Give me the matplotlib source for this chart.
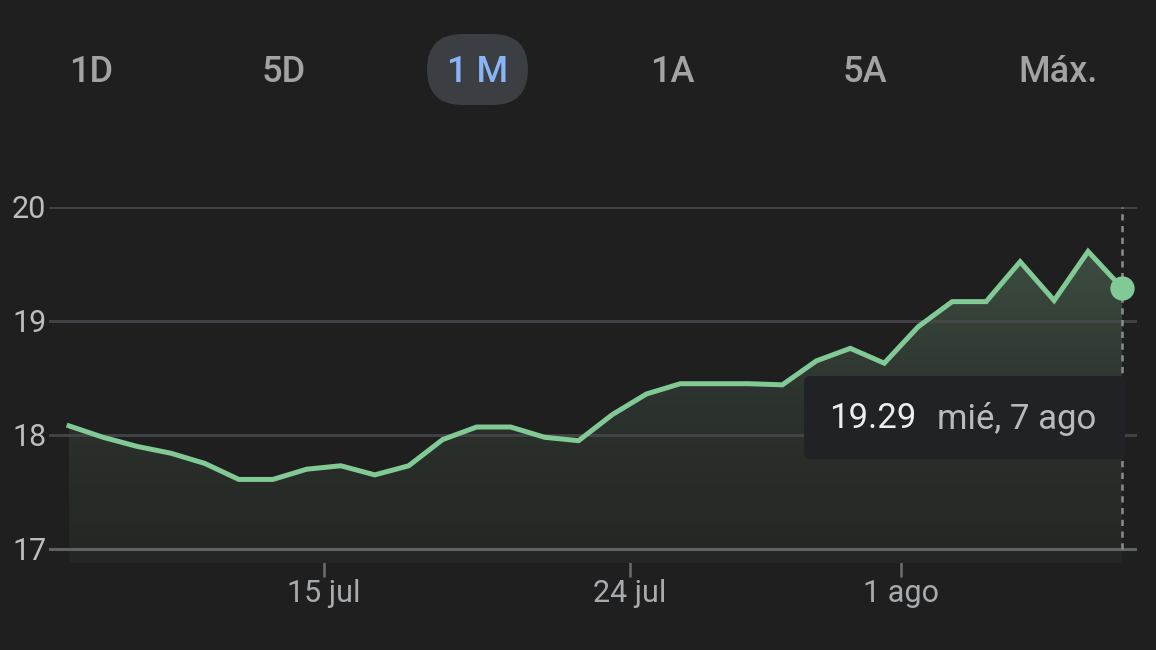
# 1 month price chart, dark theme (recreated)
import matplotlib
matplotlib.use("Agg")
import matplotlib.pyplot as plt
import matplotlib.dates as mdates
from matplotlib.patches import FancyBboxPatch, Polygon
from matplotlib.colors import LinearSegmentedColormap
import numpy as np
import pandas as pd

# data
dates = pd.date_range("2024-07-07", "2024-08-07", freq="D")
prices = [18.08, 17.98, 17.90, 17.84, 17.75, 17.61, 17.61, 17.70, 17.73, 17.65,
          17.73, 17.96, 18.07, 18.07, 17.98, 17.95, 18.18, 18.36, 18.45, 18.45,
          18.45, 18.44, 18.65, 18.76, 18.63, 18.95, 19.17, 19.17, 19.52, 19.18,
          19.61, 19.29]
yticks = [17, 18, 19, 20]
xtick_dates = ["2024-07-15", "2024-07-24", "2024-08-01"]
xtick_labels = ["15 jul", "24 jul", "1 ago"]
tabs = ["1D", "5D", "1 M", "1A", "5A", "Máx."]
active_tab = "1 M"
tooltip_value = "19.29"
tooltip_date = "mié, 7 ago"

BG = "#1f1f1f"
GREEN = "#81c995"
GRID = "#45484b"
TEXT = "#a8abae"

W, H = 1156, 650
fig = plt.figure(figsize=(W / 100, H / 100), dpi=100, facecolor=BG)

# overlay axes in pixel units (y down) for the tabs and tooltip
ov = fig.add_axes([0, 0, 1, 1], zorder=10)
ov.set_xlim(0, W)
ov.set_ylim(H, 0)
ov.axis("off")
ov.patch.set_alpha(0)

def fx(px):
    return px / W

def fy(py):
    return 1 - py / H

# chart axes box in pixels: left 49, right 1137, top 207 (y=20), bottom 563
ax = fig.add_axes([fx(49), fy(563), fx(1137) - fx(49), fy(207) - fy(563)])
ax.set_facecolor(BG)
for s in ax.spines.values():
    s.set_visible(False)

x = mdates.date2num(dates)
ax.set_xlim(x[0] - 0.59, x[-1] + 0.44)
ax.set_ylim(16.877, 20.0)

# grid lines (drawn over the fill, under the price line)
for v in yticks:
    if v == yticks[0]:
        ax.axhline(v, color="#5f6265", lw=2.2, zorder=3)
    else:
        ax.axhline(v, color=GRID, lw=2.2, alpha=0.85, zorder=3)

# gradient fill under the line
fill_poly = Polygon(list(zip(x, prices)) + [(x[-1], 16.877), (x[0], 16.877)],
                    closed=True, facecolor="none", edgecolor="none")
ax.add_patch(fill_poly)
cmap = LinearSegmentedColormap.from_list("g", ["#242624", "#2c322d", "#3e4e41"])
grad = np.linspace(0, 1, 256).reshape(-1, 1)
im = ax.imshow(grad, cmap=cmap, origin="lower", aspect="auto",
               extent=[x[0], x[-1], 16.877, 19.65], zorder=2)
im.set_clip_path(fill_poly)

# price line
ax.plot(x, prices, color=GREEN, lw=3.6, solid_joinstyle="miter", zorder=4,
        clip_on=False)

# dashed cursor line + end marker
ax.vlines(x[-1], yticks[0], yticks[-1], colors="#8a8d90", lw=1.8,
          linestyles=(0, (2.5, 2.2)), zorder=3.5)
ax.plot(x[-1], prices[-1], "o", ms=17.5, color=GREEN, mec="none", zorder=5,
        clip_on=False)

# axis ticks
ax.set_yticks(yticks)
ax.set_yticklabels([str(v) for v in yticks], family="Roboto", fontsize=22,
                   color="#bdbdbd")
ax.tick_params(axis="y", length=0, pad=2)
ax.set_xticks(mdates.date2num(pd.to_datetime(xtick_dates)) - 0.5)
ax.set_xticklabels(xtick_labels, family="Roboto", fontsize=22, color=TEXT)
ax.tick_params(axis="x", direction="inout", length=19.5, width=1.8,
               color="#6a6d70", pad=2)

# tooltip
tip = FancyBboxPatch((808, 380), 1121 - 808, 455 - 380,
                     boxstyle="round,pad=4,rounding_size=6",
                     facecolor="#212226", edgecolor="none", zorder=1)
ov.add_patch(tip)
ov.text(829, 419, tooltip_value, family="Roboto", fontsize=25,
        color="#ededed", va="center", ha="left", zorder=2)
ov.text(937, 419, tooltip_date, family="Roboto", fontsize=25,
        color="#b8babd", va="center", ha="left", zorder=2)

# range tabs
tab_x = [91, 284, 478, 672, 865, 1058]
for label, tx in zip(tabs, tab_x):
    if label == active_tab:
        pill = FancyBboxPatch((427, 34), 101, 71,
                              boxstyle="round,pad=0,rounding_size=35.5",
                              facecolor="#3b3e42", edgecolor="none", zorder=1)
        ov.add_patch(pill)
        col = "#8ab4f8"
    else:
        col = "#a3a3a3"
    ov.text(tx, 72, label, family="Roboto", weight="medium",
            fontsize=26, color=col, ha="center", va="center", zorder=2)

fig.savefig("out.png", dpi=100, facecolor=BG)
